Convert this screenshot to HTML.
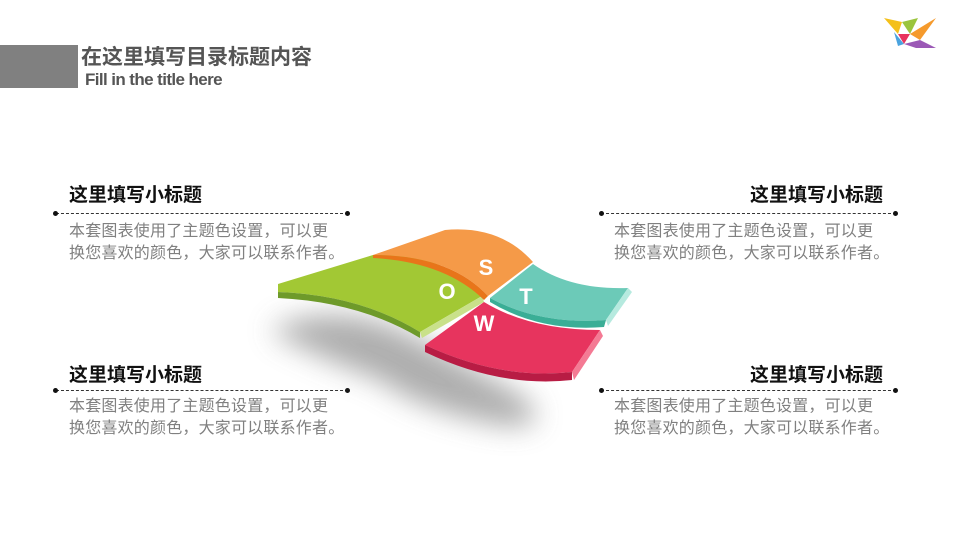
<!DOCTYPE html>
<html><head><meta charset="utf-8"><style>
body{margin:0;width:960px;height:540px;background:#fff;position:relative;overflow:hidden;font-family:"Liberation Sans","Noto Sans CJK SC",sans-serif}
.a{position:absolute}
.t{font-size:19px;font-weight:bold;color:#111;line-height:22px}
.b{font-size:16px;color:#808080;line-height:22px;white-space:nowrap;letter-spacing:0.2px}
.l{border-top:1px dashed #333;height:0}
.d{width:5px;height:5px;border-radius:50%;background:#111}
</style></head><body>
<div class="a" style="left:0;top:45px;width:78px;height:43px;background:#808080"></div>
<div class="a" style="left:81px;top:45px;font-size:21px;font-weight:bold;color:#555;line-height:25px">在这里填写目录标题内容</div>
<div class="a" style="left:85px;top:70px;font-size:17px;font-weight:bold;color:#555;letter-spacing:-0.6px;line-height:20px">Fill in the title here</div>
<svg class="a" style="left:880px;top:14px" width="60" height="40"><polygon points="4,4 22,8 18,20" fill="#f4c01a"/><polygon points="22,8 38,4 30,20" fill="#9bc53d"/><polygon points="18,20 30,20 24,30" fill="#e8345c"/><polygon points="30,20 56,4 40,26" fill="#f59a2c"/><polygon points="24,30 40,26 56,34 36,34" fill="#9b59b6"/><polygon points="14,18 24,30 18,32" fill="#4aa3df"/></svg>

<div class="a t" style="left:69px;top:185px">这里填写小标题</div>
<div class="a l" style="left:56px;top:213px;width:292px"></div><div class="a d" style="left:53px;top:211px"></div><div class="a d" style="left:345px;top:211px"></div>
<div class="a b" style="left:69px;top:221px">本套图表使用了主题色设置，可以更<br>换您喜欢的颜色，大家可以联系作者。</div>

<div class="a t" style="left:750px;top:185px">这里填写小标题</div>
<div class="a l" style="left:601px;top:213px;width:295px"></div><div class="a d" style="left:599px;top:211px"></div><div class="a d" style="left:893px;top:211px"></div>
<div class="a b" style="left:614px;top:221px">本套图表使用了主题色设置，可以更<br>换您喜欢的颜色，大家可以联系作者。</div>

<div class="a t" style="left:69px;top:365px">这里填写小标题</div>
<div class="a l" style="left:56px;top:390px;width:292px"></div><div class="a d" style="left:53px;top:388px"></div><div class="a d" style="left:345px;top:388px"></div>
<div class="a b" style="left:69px;top:396px">本套图表使用了主题色设置，可以更<br>换您喜欢的颜色，大家可以联系作者。</div>

<div class="a t" style="left:750px;top:365px">这里填写小标题</div>
<div class="a l" style="left:601px;top:390px;width:295px"></div><div class="a d" style="left:599px;top:388px"></div><div class="a d" style="left:893px;top:388px"></div>
<div class="a b" style="left:614px;top:396px">本套图表使用了主题色设置，可以更<br>换您喜欢的颜色，大家可以联系作者。</div>

<svg class="a" style="left:0;top:0" width="960" height="540">
<defs><filter id="bl" x="-50%" y="-50%" width="200%" height="200%"><feGaussianBlur stdDeviation="14"/></filter></defs>
<path d="M270,330 Q330,300 400,330 Q460,360 520,395 Q560,430 500,425 Q420,410 380,380 Q300,350 270,330Z" fill="#999" filter="url(#bl)" opacity="0.8"/>
<path d="M278,284 L373,255 Q440,250 482,296 L420,332 Q360,295 278,292Z" fill="#a2c834"/>
<path d="M278,284 L278,292 Q360,295 420,332 L420,338 Q360,302 278,298Z" fill="#6e9a2a"/>
<path d="M420,332 L482,296 L484,302 L422,338Z" fill="#c9e18a"/>
<path d="M373,255 L445,230 Q500,225 533,262 L488,296 Q450,255 373,255Z" fill="#f59a48"/>
<path d="M373,255 Q450,255 488,296 L484,300 Q445,262 373,258Z" fill="#e8751a"/>
<path d="M533,264 Q570,290 628,288 L606,320 Q540,325 490,298Z" fill="#6ccab8"/>
<path d="M490,298 Q540,325 606,320 L604,327 Q540,332 490,302Z" fill="#3aae96"/>
<path d="M628,288 L632,292 L608,326 L606,320Z" fill="#b6eadf"/>
<path d="M484,302 Q530,330 600,330 L572,372 Q500,380 425,345Z" fill="#e7345e"/>
<path d="M425,345 Q500,380 572,372 L572,380 Q500,388 425,352Z" fill="#b81c44"/>
<path d="M600,330 L603,336 L574,380 L572,372Z" fill="#f47a94"/>
<g font-family="Liberation Sans" font-weight="bold" font-size="22" fill="#fff" text-anchor="middle">
<text x="486" y="275">S</text><text x="447" y="299">O</text><text x="526" y="304">T</text><text x="484" y="331">W</text></g>
</svg>
</body></html>
